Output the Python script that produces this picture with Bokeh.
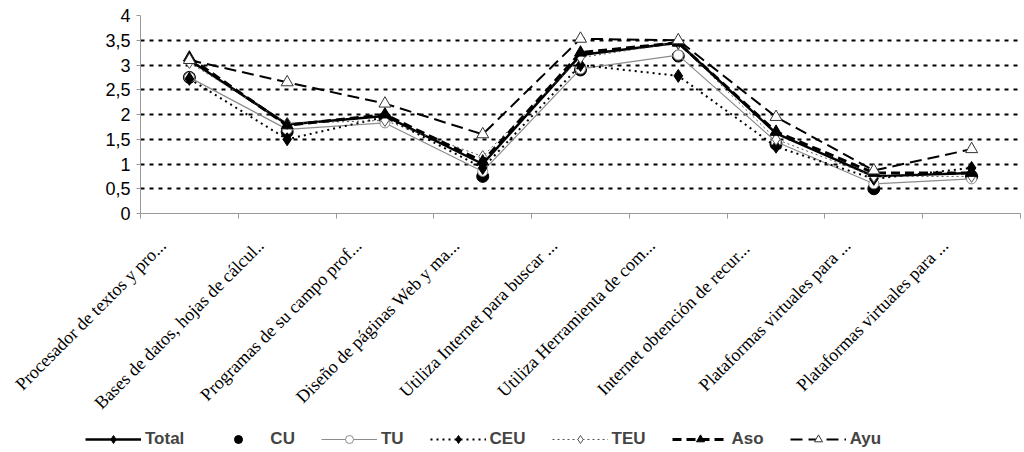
import math
from bokeh.plotting import figure
from bokeh.layouts import column
from bokeh.models import FixedTicker, Legend, LegendItem, ColumnDataSource
from bokeh.embed import file_html
from bokeh.resources import INLINE

categories = [
    "Procesador de textos y pro...",
    "Bases de datos, hojas de cálcul..",
    "Programas de su campo prof...",
    "Diseño de páginas Web y ma...",
    "Utiliza Internet para buscar ...",
    "Utiliza Herramienta de com...",
    "Internet  obtención de recur...",
    "Plataformas virtuales para ...",
    "Plataformas virtuales para ...",
]

total = [3.10, 1.80, 1.97, 1.00, 3.20, 3.45, 1.62, 0.75, 0.82]
cu    = [2.75, 1.65, 1.93, 0.75, 2.90, 3.18, 1.40, 0.50, 0.75]
tu    = [2.75, 1.70, 1.83, 0.85, 2.92, 3.20, 1.45, 0.60, 0.70]
ceu   = [2.72, 1.50, 1.95, 0.92, 3.00, 2.78, 1.35, 0.70, 0.92]
teu   = [3.05, 1.82, 1.88, 1.15, 3.15, 3.45, 1.50, 0.75, 0.75]
aso   = [3.15, 1.78, 2.00, 1.05, 3.25, 3.45, 1.65, 0.82, 0.82]
ayu   = [3.10, 2.65, 2.22, 1.60, 3.53, 3.50, 1.95, 0.87, 1.30]

y_ticks = [0, 0.5, 1, 1.5, 2, 2.5, 3, 3.5, 4]
y_tick_labels = ["0", "0,5", "1", "1,5", "2", "2,5", "3", "3,5", "4"]

n = len(categories)
xs = [i + 0.5 for i in range(n)]
# slanted labels sit with their end a little left of the category centre
label_pos = [x - 0.27 for x in xs]

src = ColumnDataSource(dict(x=xs, total=total, cu=cu, tu=tu, ceu=ceu,
                            teu=teu, aso=aso, ayu=ayu))

# series styles: (label, column, line kwargs or None, marker kwargs)
series = [
    ("Total", "total", dict(line_color="black", line_width=2.5),
     dict(marker="diamond", size=13, fill_color="black", line_color="black")),
    ("CU", "cu", None,
     dict(marker="circle", size=12, fill_color="black", line_color="black")),
    ("TU", "tu", dict(line_color="#8c8c8c", line_width=1.2),
     dict(marker="circle", size=10, fill_color="white", line_color="#8c8c8c")),
    ("CEU", "ceu", dict(line_color="black", line_width=2, line_dash="2 4"),
     dict(marker="diamond", size=13, fill_color="black", line_color="black")),
    ("TEU", "teu", dict(line_color="#555555", line_width=1, line_dash="2 3"),
     dict(marker="diamond", size=12, fill_color="white", line_color="#555555")),
    ("Aso", "aso", dict(line_color="black", line_width=3, line_dash="9 5"),
     dict(marker="triangle", size=12, fill_color="black", line_color="black")),
    ("Ayu", "ayu", dict(line_color="black", line_width=2, line_dash="12 6"),
     dict(marker="triangle", size=12, fill_color="white", line_color="#333333")),
]


def draw_series(fig):
    items = []
    for label, col, lkw, mkw in series:
        rs = []
        if lkw is not None:
            rs.append(fig.line("x", col, source=src, **lkw))
        rs.append(fig.scatter("x", col, source=src, **mkw))
        items.append(LegendItem(label=label, renderers=rs))
    return items


p = figure(width=1024, height=422, x_range=(0, n), y_range=(0, 4),
           output_backend="svg", toolbar_location=None,
           min_border_left=140, min_border_right=4, min_border_top=15,
           min_border_bottom=209)
p.outline_line_color = None
p.background_fill_color = "white"
p.border_fill_color = "white"
p.frame_align = False

# x axis: labels per category, tick marks on the category boundaries
p.xaxis.ticker = FixedTicker(ticks=label_pos, minor_ticks=list(range(n + 1)))
p.xaxis.major_label_overrides = {x: c for x, c in zip(label_pos, categories)}
p.xaxis.major_label_orientation = math.pi / 4
p.xaxis.major_label_text_font = "Liberation Serif"
p.xaxis.major_label_text_font_size = "18px"
p.xaxis.major_label_text_color = "black"
p.xaxis.major_tick_line_color = None
p.xaxis.major_tick_out = 5
p.xaxis.minor_tick_line_color = "#999999"
p.xaxis.minor_tick_out = 5
p.xaxis.minor_tick_in = 0
p.xaxis.axis_line_color = "#999999"
p.xaxis.major_label_standoff = 24
p.xgrid.grid_line_color = None

p.yaxis.ticker = FixedTicker(ticks=y_ticks)
p.yaxis.major_label_overrides = {t: l for t, l in zip(y_ticks, y_tick_labels)}
p.yaxis.major_label_text_font = "Liberation Sans"
p.yaxis.major_label_text_font_size = "18px"
p.yaxis.major_label_text_color = "black"
p.yaxis.axis_line_color = "#999999"
p.yaxis.major_tick_line_color = "#999999"
p.yaxis.major_tick_out = 4
p.yaxis.major_tick_in = 0
p.yaxis.minor_tick_line_color = None
p.yaxis.major_label_standoff = 6
p.ygrid.grid_line_color = "black"
p.ygrid.grid_line_dash = "4 5"
p.ygrid.grid_line_width = 2

draw_series(p)

# legend strip under the chart; its copies of the series lie outside its view
leg = figure(width=1024, height=30, x_range=(100, 101), y_range=(100, 101),
             output_backend="svg", toolbar_location=None, min_border=0,
             min_border_left=0, min_border_right=0,
             x_axis_location=None, y_axis_location=None)
leg.frame_align = False
leg.outline_line_color = None
leg.xgrid.grid_line_color = None
leg.ygrid.grid_line_color = None
items = draw_series(leg)

legend = Legend(items=items, orientation="horizontal", location=(85, 3))
legend.label_text_font = "Liberation Sans"
legend.label_text_font_style = "bold"
legend.label_text_font_size = "17px"
legend.glyph_width = 56
legend.glyph_height = 20
legend.label_standoff = 4
legend.spacing = 26
legend.padding = 2
legend.margin = 0
legend.border_line_color = None
legend.background_fill_alpha = 0
leg.add_layout(legend, "center")

layout = column(p, leg, spacing=0)
open("out.html", "w").write(file_html(layout, INLINE))
